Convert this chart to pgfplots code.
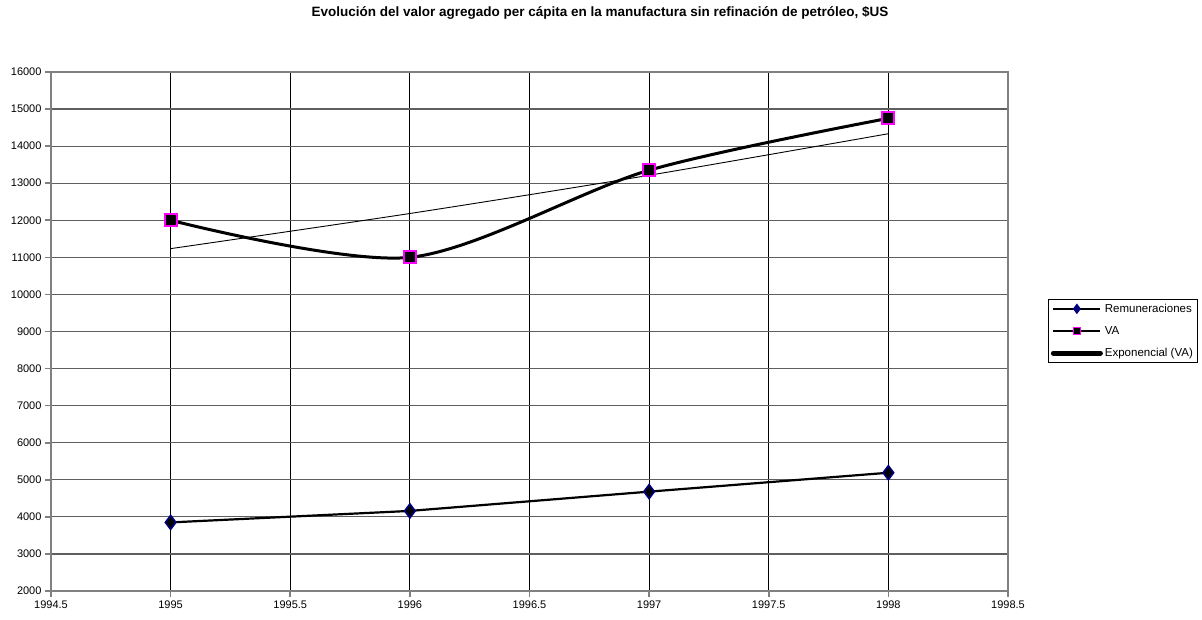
\documentclass[border=0pt]{standalone}
\usepackage{pgfplots}
\pgfplotsset{compat=1.18}
\usepackage{fontspec}
\setmainfont{Liberation Sans}
\definecolor{navyd}{RGB}{0,0,128}
\definecolor{magv}{RGB}{255,0,255}
\definecolor{axgray}{RGB}{128,128,128}
\definecolor{hgrid}{RGB}{95,95,95}
\begin{document}
\begin{tikzpicture}
\path[use as bounding box] (0pt,0pt) rectangle (1202pt,620pt);
\node[font=\fontsize{13.5}{15}\selectfont\bfseries] at (600pt,607pt) {Evolución del valor agregado per cápita en la manufactura sin refinación de petróleo, \$US};
\begin{axis}[
  at={(51pt,29pt)}, anchor=south west,
  scale only axis, width=957pt, height=519pt,
  xmin=1994.5, xmax=1998.5, ymin=2000, ymax=16000,
  xtick distance=0.5, ytick distance=1000,
  scaled x ticks=false, scaled y ticks=false,
  xticklabel style={/pgf/number format/fixed, /pgf/number format/precision=1, /pgf/number format/1000 sep={}},
  yticklabel style={/pgf/number format/fixed, /pgf/number format/1000 sep={}},
  /pgf/number format/assume math mode=true,
  ticklabel style={font=\fontsize{11}{12}\selectfont},
  xmajorgrids, ymajorgrids,
  x grid style={black, line width=0.9pt},
  y grid style={hgrid, line width=1.2pt},
  axis line style={draw=axgray, line width=2.8pt},
  tick style={axgray, line width=1.6pt},
  tick align=outside, major tick length=6pt,
  xtick pos=bottom, ytick pos=left,
  legend style={at={(1.0418,0.5626)}, anchor=north west, draw=black, line width=0.8pt,
    font=\fontsize{11.5}{13}\selectfont, inner sep=2.5pt, row sep=8.5pt},
  legend cell align=left,
  legend image code/.code={\draw[mark repeat=2,mark phase=2,#1] plot coordinates {(0pt,0pt) (23.5pt,0pt) (47pt,0pt)};},
]
% Exponential trendline (thin)
\addplot[black, line width=0.9pt, smooth, forget plot] coordinates {
 (1995,11235) (1996,12183) (1997,13214) (1998,14335)};
% Remuneraciones
\addplot[black, line width=2.2pt, forget plot, mark=diamond*, mark size=7pt,
  mark options={draw=navyd, fill=black, line width=1.6pt}] coordinates {
 (1995,3850) (1996,4160) (1997,4680) (1998,5190)};
% VA
\addplot[black, line width=3pt, smooth, forget plot, mark=square*, mark size=6pt,
  mark options={draw=magv, fill=black, line width=2pt}] coordinates {
 (1995,12000) (1996,11000) (1997,13350) (1998,14750)};
\draw[axgray, line width=2.8pt] (rel axis cs:0,0) rectangle (rel axis cs:1,1);
\addlegendimage{black, line width=2pt, mark=diamond*, mark size=4.5pt, mark options={draw=navyd, fill=navyd, line width=1pt}}
\addlegendentry{Remuneraciones}
\addlegendimage{black, line width=2pt, mark=square*, mark size=3.5pt, mark options={draw=magv, fill=black, line width=1.5pt}}
\addlegendentry{VA}
\addlegendimage{black, line width=5pt, line cap=round}
\addlegendentry{Exponencial (VA)}
\end{axis}
\end{tikzpicture}
\end{document}
